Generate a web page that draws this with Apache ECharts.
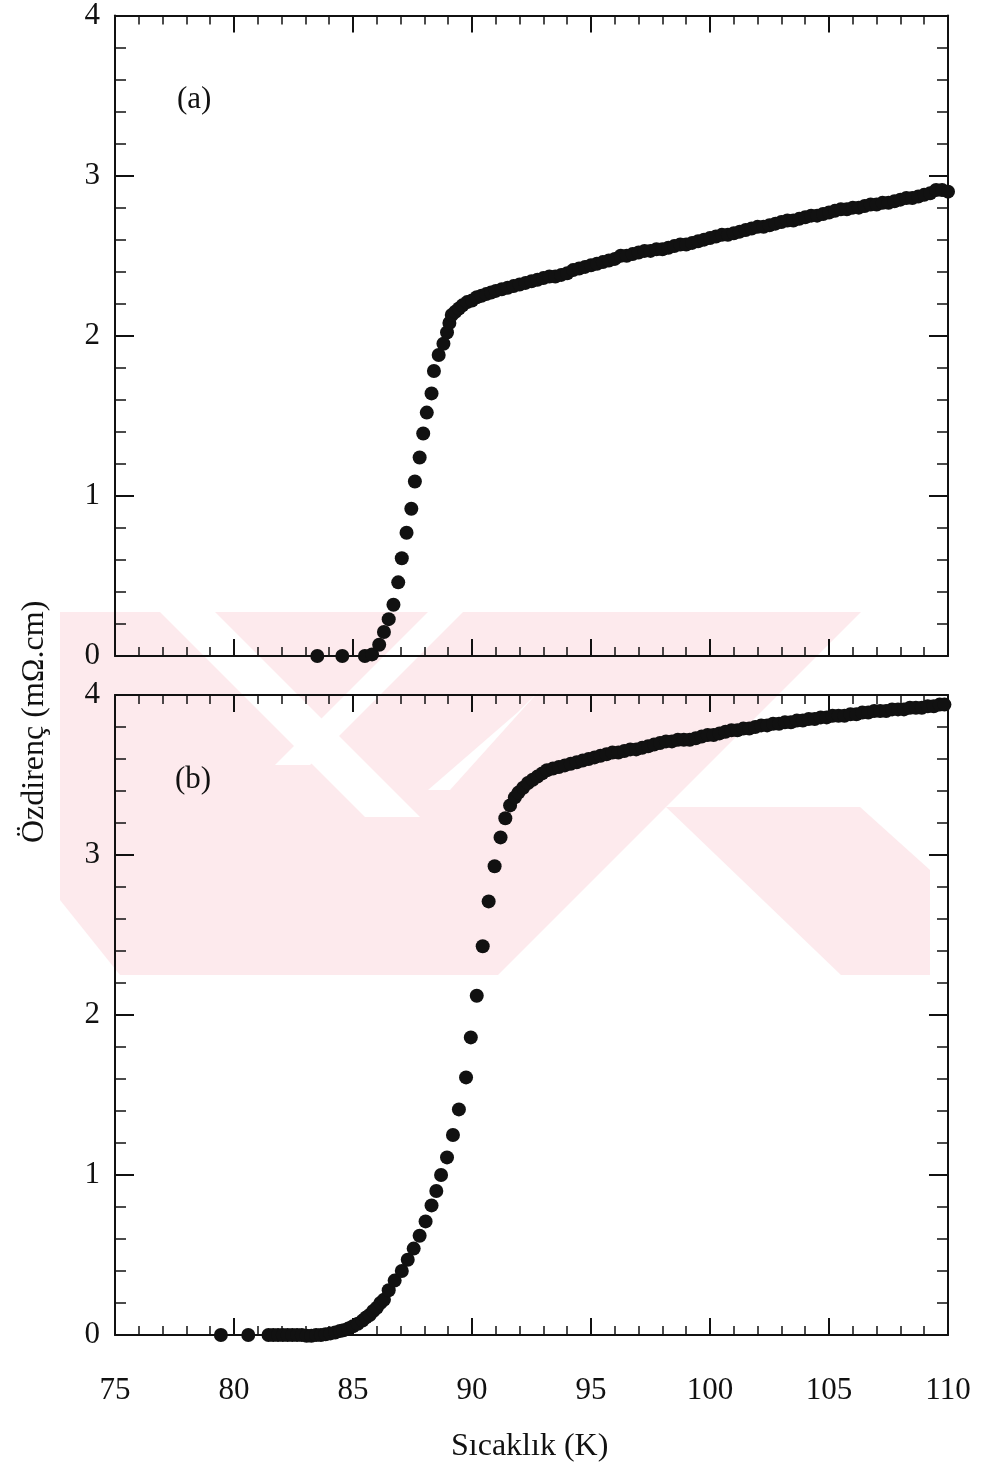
<!DOCTYPE html>
<html>
<head>
<meta charset="utf-8">
<script src="https://cdn.jsdelivr.net/npm/echarts@6/dist/echarts.min.js"></script>
<style>
html,body{margin:0;padding:0;background:#fff;}
#chart{width:981px;height:1475px;}
</style>
</head>
<body>
<div id="chart"></div>
<script>
// Panel (a) data: temperature (K) and resistivity (mΩ.cm)
const tempA = [83.5,84.55,85.5,85.8,86.1,86.3,86.5,86.7,86.9,87.05,87.25,87.45,87.6,87.8,87.95,88.1,88.3,88.4,88.6,88.8,88.95,89.05,89.15,89.3,89.45,89.6,89.8,90.0,90.2,90.4,90.6,90.8,91.0,91.25,91.5,91.75,92.0,92.25,92.5,92.75,93.0,93.25,93.5,93.75,94.0,94.25,94.5,94.75,95.0,95.25,95.5,95.75,96.0,96.25,96.5,96.75,97.0,97.25,97.5,97.75,98.0,98.25,98.5,98.75,99.0,99.25,99.5,99.75,100.0,100.25,100.5,100.75,101.0,101.25,101.5,101.75,102.0,102.25,102.5,102.75,103.0,103.25,103.5,103.75,104.0,104.25,104.5,104.75,105.0,105.25,105.5,105.75,106.0,106.25,106.5,106.75,107.0,107.25,107.5,107.75,108.0,108.25,108.5,108.75,109.0,109.25,109.5,109.75,110.0];
const rhoA = [0,0,0,0.01,0.07,0.15,0.23,0.32,0.46,0.61,0.77,0.92,1.09,1.24,1.39,1.52,1.64,1.78,1.88,1.95,2.02,2.08,2.13,2.15,2.17,2.19,2.21,2.22,2.24,2.25,2.26,2.27,2.28,2.29,2.30,2.31,2.32,2.33,2.34,2.35,2.36,2.37,2.37,2.38,2.39,2.41,2.42,2.43,2.44,2.45,2.46,2.47,2.48,2.50,2.50,2.51,2.52,2.53,2.53,2.54,2.54,2.55,2.56,2.57,2.57,2.58,2.59,2.60,2.61,2.62,2.63,2.63,2.64,2.65,2.66,2.67,2.68,2.68,2.69,2.70,2.71,2.72,2.72,2.73,2.74,2.75,2.75,2.76,2.77,2.78,2.79,2.79,2.80,2.80,2.81,2.82,2.82,2.83,2.83,2.84,2.85,2.86,2.86,2.87,2.88,2.89,2.91,2.91,2.90];

// Panel (b) data
const tempB = [79.45,80.6,81.45,81.65,81.85,82.05,82.25,82.45,82.65,82.85,83.05,83.25,83.45,83.65,83.85,84.05,84.25,84.45,84.6,84.8,85.0,85.2,85.4,85.55,85.7,85.85,86.0,86.15,86.3,86.5,86.75,87.05,87.3,87.55,87.8,88.05,88.3,88.5,88.7,88.95,89.2,89.45,89.75,89.95,90.2,90.45,90.7,90.95,91.2,91.4,91.6,91.8,91.95,92.15,92.35,92.55,92.75,92.95,93.15,93.4,93.65,93.9,94.15,94.4,94.65,94.9,95.15,95.4,95.65,95.9,96.15,96.4,96.65,96.9,97.15,97.4,97.65,97.9,98.15,98.4,98.65,98.9,99.15,99.4,99.65,99.9,100.15,100.4,100.65,100.9,101.15,101.4,101.65,101.9,102.15,102.4,102.65,102.9,103.15,103.4,103.65,103.9,104.15,104.4,104.65,104.9,105.15,105.4,105.65,105.9,106.15,106.4,106.65,106.9,107.15,107.4,107.65,107.9,108.15,108.4,108.65,108.9,109.15,109.4,109.65,109.85];
const rhoB = [0,0,0,0,0,0,0,0,0,0,-0.005,-0.005,0,0,0.005,0.01,0.015,0.025,0.03,0.04,0.055,0.07,0.09,0.11,0.125,0.15,0.17,0.2,0.22,0.28,0.34,0.40,0.47,0.54,0.62,0.71,0.81,0.90,1.0,1.11,1.25,1.41,1.61,1.86,2.12,2.43,2.71,2.93,3.11,3.23,3.31,3.36,3.39,3.42,3.45,3.47,3.49,3.51,3.53,3.54,3.55,3.56,3.57,3.58,3.59,3.60,3.61,3.62,3.63,3.64,3.64,3.65,3.66,3.66,3.67,3.68,3.69,3.70,3.71,3.71,3.72,3.72,3.72,3.73,3.74,3.75,3.75,3.76,3.77,3.78,3.78,3.79,3.79,3.80,3.81,3.81,3.82,3.82,3.83,3.83,3.84,3.84,3.85,3.85,3.86,3.86,3.87,3.87,3.87,3.88,3.88,3.89,3.89,3.90,3.90,3.90,3.91,3.91,3.91,3.92,3.92,3.92,3.93,3.93,3.94,3.94];

const xTicks = [75, 80, 85, 90, 95, 100, 105, 110];
const yTicks = [0, 1, 2, 3, 4];
const panelLabels = ['(a)', '(b)'];
const xTitle = 'Sıcaklık (K)';
const yTitle = 'Özdirenç (mΩ.cm)';

const FONT = '"Liberation Serif", "DejaVu Serif", serif';
const INK = '#111';
const PINK = '#fdeaed';

function zip(xs, ys) { return xs.map((x, i) => [x, ys[i]]); }

function xAx(gridIndex, position, showLabels) {
  return {
    type: 'value', gridIndex, position,
    min: xTicks[0], max: xTicks[xTicks.length - 1], interval: 5,
    axisLine: { show: true, onZero: false, lineStyle: { color: INK, width: 2 } },
    axisTick: { show: true, inside: true, length: 17, lineStyle: { color: INK, width: 2 } },
    minorTick: { show: true, splitNumber: 5, length: 9, lineStyle: { color: INK, width: 1.5 } },
    splitLine: { show: false },
    axisLabel: { show: showLabels, margin: 40, color: INK, fontFamily: FONT, fontSize: 31 }
  };
}
function yAx(gridIndex, position, showLabels) {
  return {
    type: 'value', gridIndex, position,
    min: yTicks[0], max: yTicks[yTicks.length - 1], interval: 1,
    axisLine: { show: true, onZero: false, lineStyle: { color: INK, width: 2 } },
    axisTick: { show: true, inside: true, length: 19, lineStyle: { color: INK, width: 2 } },
    minorTick: { show: true, splitNumber: 5, length: 11, lineStyle: { color: INK, width: 1.5 } },
    splitLine: { show: false },
    axisLabel: { show: showLabels, margin: 15, color: INK, fontFamily: FONT, fontSize: 31 }
  };
}

// faint thesis watermark (decoration behind the plot)
const watermark = [
  { type: 'polygon', z: -10, silent: true, shape: { points: [[60,612],[861,612],[498,975],[120,975],[60,900]] }, style: { fill: PINK } },
  { type: 'polygon', z: -10, silent: true, shape: { points: [[666,807],[841,975],[930,975],[930,870],[860,807]] }, style: { fill: PINK } },
  { type: 'polygon', z: -9, silent: true, shape: { points: [[160,612],[215,612],[420,817],[365,817]] }, style: { fill: '#fff' } },
  { type: 'polygon', z: -9, silent: true, shape: { points: [[428,612],[463,612],[310,765],[275,765]] }, style: { fill: '#fff' } },
  { type: 'polygon', z: -9, silent: true, shape: { points: [[518,712],[540,690],[450,790],[428,790]] }, style: { fill: '#fff' } }
];

const chart = echarts.init(document.getElementById('chart'), null, { renderer: 'canvas' });
chart.setOption({
  backgroundColor: '#fff',
  animation: false,
  grid: [
    { left: 115, right: 33, top: 15, height: 641 },
    { left: 115, right: 33, top: 695, height: 640 }
  ],
  xAxis: [
    xAx(0, 'bottom', false), xAx(0, 'top', false),
    xAx(1, 'bottom', true), xAx(1, 'top', false)
  ],
  yAxis: [
    yAx(0, 'left', true), yAx(0, 'right', false),
    yAx(1, 'left', true), yAx(1, 'right', false)
  ],
  graphic: watermark.concat([
    { type: 'text', left: 177, top: 84, style: { text: panelLabels[0], font: '31px ' + FONT, fill: INK } },
    { type: 'text', left: 175, top: 764, style: { text: panelLabels[1], font: '31px ' + FONT, fill: INK } },
    { type: 'text', left: 451, top: 1431, style: { text: xTitle, font: '32px ' + FONT, fill: INK } },
    { type: 'text', x: 19, y: 843, rotation: Math.PI / 2, style: { text: yTitle, font: '32px ' + FONT, fill: INK } }
  ]),
  series: [
    { type: 'scatter', xAxisIndex: 0, yAxisIndex: 0, data: zip(tempA, rhoA), symbol: 'circle', symbolSize: 14, itemStyle: { color: INK, opacity: 1 }, clip: false },
    { type: 'scatter', xAxisIndex: 2, yAxisIndex: 2, data: zip(tempB, rhoB), symbol: 'circle', symbolSize: 14, itemStyle: { color: INK, opacity: 1 }, clip: false }
  ]
});
</script>
</body>
</html>
